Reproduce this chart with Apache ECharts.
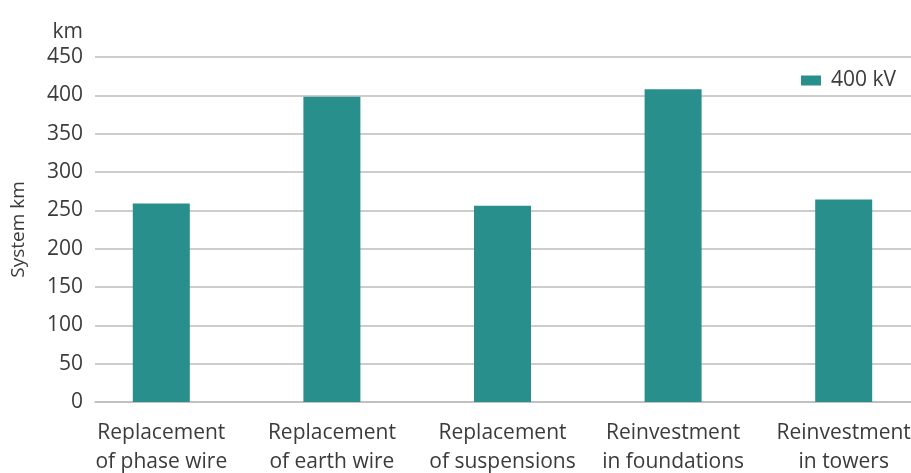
<!DOCTYPE html>
<html>
<head>
<meta charset="utf-8">
<script src="https://cdn.jsdelivr.net/npm/echarts@6/dist/echarts.min.js"></script>
<style>
html,body{margin:0;padding:0;background:#fff;}
#chart{width:911px;height:473px;}
</style>
</head>
<body>
<div id="chart"></div>
<script>
// Overhead line renewal work, system km at 400 kV
const categories = [
  'Replacement\nof phase wire',
  'Replacement\nof earth wire',
  'Replacement\nof suspensions',
  'Reinvestment\nin foundations',
  'Reinvestment\nin towers'
];
const seriesName = '400 kV';
const values400kV = [259, 398, 256, 408, 264];
const yTicks = [0, 50, 100, 150, 200, 250, 300, 350, 400, 450];

const FONT = 'Open Sans';
const TEXT = '#3b3b3b';
const TEAL = '#288f8c';
const yMin = yTicks[0], yMax = yTicks[yTicks.length - 1], yStep = yTicks[1] - yTicks[0];

const chart = echarts.init(document.getElementById('chart'));
chart.setOption({
  animation: false,
  textStyle: { fontFamily: FONT },
  legend: {
    data: [{ name: seriesName, icon: 'rect' }],
    right: 10, top: 65,
    itemWidth: 20, itemHeight: 10, itemGap: 10,
    textStyle: { fontFamily: FONT, fontSize: 21, color: TEXT, padding: [0, 0, 0, 5] }
  },
  grid: [
    // axis frame: value labels and gridlines
    { left: 95, right: 0, top: 57, bottom: 71, outerBoundsMode: 'none', containLabel: false },
    // bar band layout
    { left: 76, width: 853, top: 57, bottom: 71, outerBoundsMode: 'none', containLabel: false }
  ],
  xAxis: [
    { gridIndex: 0, type: 'category', data: categories, show: true,
      axisLine: { lineStyle: { color: '#bdbdbd', width: 1.5 } },
      axisTick: { show: false }, axisLabel: { show: false } },
    { gridIndex: 1, type: 'category', data: categories,
      axisLine: { show: false }, axisTick: { show: false },
      axisLabel: { fontFamily: FONT, fontSize: 21, color: TEXT, margin: 17, lineHeight: 29, interval: 0 } }
  ],
  yAxis: [
    { gridIndex: 0, type: 'value', min: yMin, max: yMax, interval: yStep,
      name: 'km', nameLocation: 'end', nameGap: 14,
      nameTextStyle: { fontFamily: FONT, fontSize: 21, color: TEXT, align: 'right', padding: [0, 12, 0, 0] },
      axisLine: { show: false }, axisTick: { show: false },
      axisLabel: { fontFamily: FONT, fontSize: 21, color: TEXT, margin: 12 },
      splitLine: { lineStyle: { color: '#bdbdbd', width: 1.5 } } },
    { gridIndex: 1, type: 'value', min: yMin, max: yMax, interval: yStep, show: false,
      splitLine: { show: false } },
    { gridIndex: 0, type: 'value', min: yMin, max: yMax, position: 'left', offset: 0,
      name: 'System km', nameLocation: 'middle', nameGap: 67, nameRotate: 90,
      nameTextStyle: { fontFamily: FONT, fontSize: 19, color: TEXT },
      axisLine: { show: false }, axisTick: { show: false }, axisLabel: { show: false },
      splitLine: { show: false } }
  ],
  series: [{
    name: seriesName,
    type: 'bar',
    xAxisIndex: 1, yAxisIndex: 1,
    data: values400kV,
    barWidth: 57,
    itemStyle: { color: TEAL }
  }]
});
</script>
</body>
</html>
